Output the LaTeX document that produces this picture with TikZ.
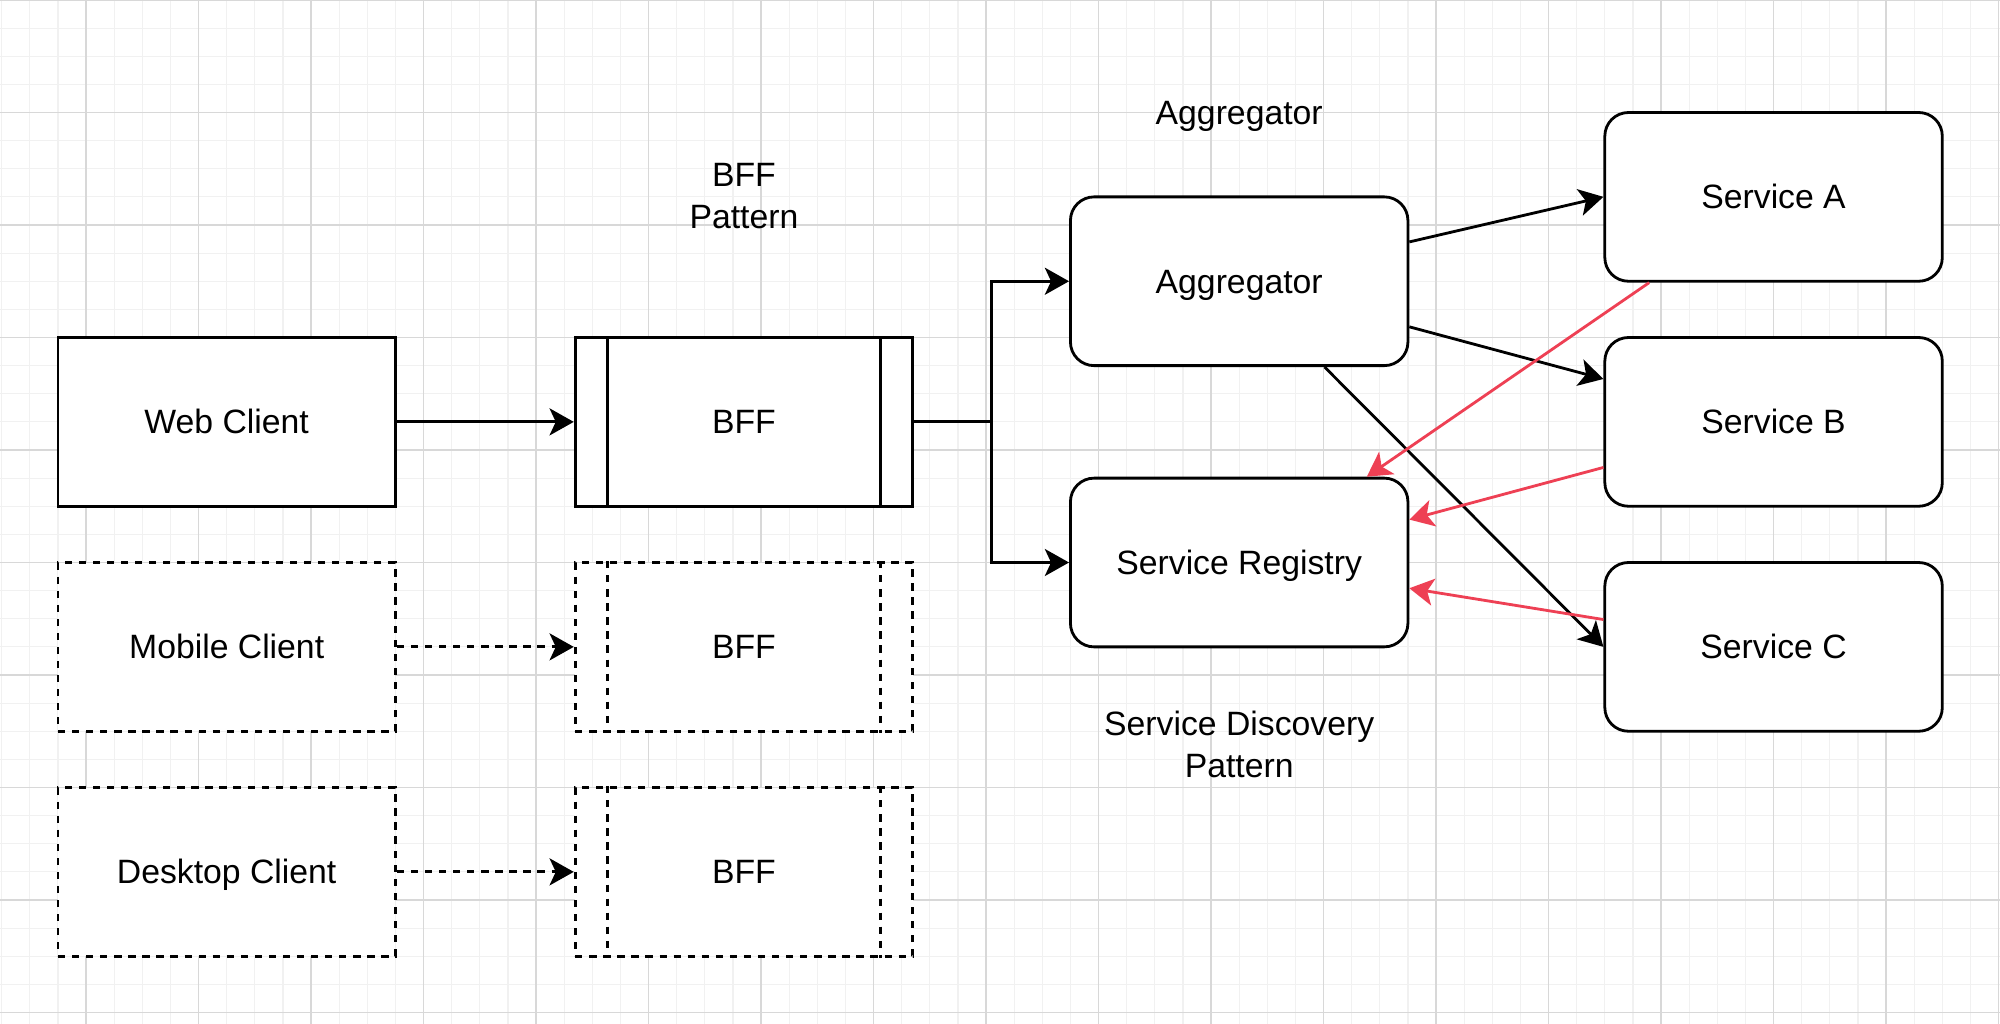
\documentclass[tikz,border=0pt]{standalone}
\usepackage{fontspec}
\setmainfont{Liberation Sans}
\usetikzlibrary{arrows.meta,calc}
\definecolor{gridminorc}{RGB}{241,241,241}
\definecolor{gridmajorc}{RGB}{216,216,216}
\definecolor{redline}{RGB}{238,64,84}
\newcommand\labfont{\fontsize{17.07pt}{21.05pt}\selectfont}
\begin{document}
\begin{tikzpicture}[x=0.05cm,y=-0.05cm,
  box/.style={draw=black, fill=white, line width=0.05cm, minimum width=6cm, minimum height=3cm,
    inner sep=0pt, font=\labfont, text height=12.2pt, text depth=0pt},
  rbox/.style={box, rounded corners=0.42cm},
  dbox/.style={box, dash pattern=on 0.13cm off 0.12cm},
  conn/.style={line width=0.05cm, draw=black},
  tip/.style={-{Stealth[length=0.43cm,width=0.48cm,inset=0.11cm]}},
  arr/.style={conn, tip},
  darr/.style={conn, tip, dash pattern=on 0.13cm off 0.12cm},
  rarr/.style={line width=0.05cm, draw=redline, -{Stealth[length=0.43cm,width=0.48cm,inset=0.11cm,fill=redline]}},
  lbl/.style={font=\labfont, align=center, inner sep=0pt},
  gminor/.style={draw=gridminorc, line width=0.6pt},
  gmajor/.style={draw=gridmajorc, line width=0.8pt}
]
% background and grid
\fill[white] (0,0) rectangle (711.11,364.09);
\useasboundingbox (0,0) rectangle (711.11,364.09);
\foreach \i in {0,...,71} \draw[gminor] ({0.6+10*\i},0) -- ({0.6+10*\i},364.09);
\foreach \j in {0,...,36} \draw[gminor] (0,{10*\j}) -- (711.11,{10*\j});
\foreach \i in {0,...,17} \draw[gmajor] ({30.6+40*\i},0) -- ({30.6+40*\i},364.09);
\foreach \j in {0,...,9} \draw[gmajor] (0,{40*\j}) -- (711.11,{40*\j});

% clients
\node[box] (web) at (80.6,150) {Web Client};
\node[dbox] (mob) at (80.6,230) {Mobile Client};
\node[dbox] (desk) at (80.6,310) {Desktop Client};

% BFFs (process shapes)
\node[box] (bff1) at (264.5,150) {BFF};
\draw[conn] ([xshift=0.6cm]bff1.north west) -- ([xshift=0.6cm]bff1.south west);
\draw[conn] ([xshift=-0.6cm]bff1.north east) -- ([xshift=-0.6cm]bff1.south east);
\node[dbox] (bff2) at (264.5,230) {BFF};
\draw[conn, dash pattern=on 0.13cm off 0.12cm] ([xshift=0.6cm]bff2.north west) -- ([xshift=0.6cm]bff2.south west);
\draw[conn, dash pattern=on 0.13cm off 0.12cm] ([xshift=-0.6cm]bff2.north east) -- ([xshift=-0.6cm]bff2.south east);
\node[dbox] (bff3) at (264.5,310) {BFF};
\draw[conn, dash pattern=on 0.13cm off 0.12cm] ([xshift=0.6cm]bff3.north west) -- ([xshift=0.6cm]bff3.south west);
\draw[conn, dash pattern=on 0.13cm off 0.12cm] ([xshift=-0.6cm]bff3.north east) -- ([xshift=-0.6cm]bff3.south east);

% aggregator, registry, services
\node[rbox] (agg) at (440.6,100) {Aggregator};
\node[rbox] (reg) at (440.6,200) {Service Registry};
\node[rbox] (sa) at (630.6,70) {Service A};
\node[rbox] (sb) at (630.6,150) {Service B};
\node[rbox] (sc) at (630.6,230) {Service C};

% free labels
\node[lbl] (lbff) at (264.5,69.8) {BFF\\Pattern};
\node[lbl, anchor=base] (lagg) at (440.6,44.2) {Aggregator};
\node[lbl] (lsd) at (440.6,264.6) {Service Discovery\\Pattern};

% connectors
\coordinate (j) at (352.55,150);
\draw[arr] (web) -- (bff1);
\draw[darr] (mob) -- (bff2);
\draw[darr] (desk) -- (bff3);
\draw[conn] (bff1.east) -- (j);
\draw[arr] (j) |- (agg.west);
\draw[arr] (j) |- (reg.west);
\draw[arr] (agg) -- (sa.west);
\draw[arr] (agg) -- ($(sb.north west)!0.25!(sb.south west)$);
\draw[arr] (agg) -- (sc.west);
\draw[rarr] (sa) -- ($(reg.north west)!0.875!(reg.north east)$);
\draw[rarr] (sb) -- ($(reg.north east)!0.25!(reg.south east)$);
\draw[rarr] (sc) -- ($(reg.north east)!0.65!(reg.south east)$);
\end{tikzpicture}
\end{document}
